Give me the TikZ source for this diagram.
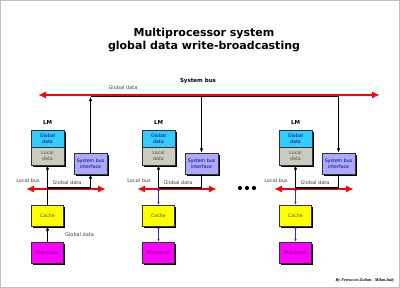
\documentclass[tikz,border=0pt]{standalone}
\usepackage{fontspec}
\setmainfont{DejaVu Sans}
\newfontfamily\creditfont{Liberation Serif}
\usetikzlibrary{arrows.meta,positioning,shadows}
\definecolor{busred}{RGB}{255,0,0}
\definecolor{gdcyan}{RGB}{51,204,255}
\definecolor{ldgray}{RGB}{204,204,190}
\definecolor{sbiblue}{RGB}{170,170,255}
\definecolor{cacheyel}{RGB}{255,255,0}
\definecolor{procmag}{RGB}{255,0,255}
\definecolor{linkblue}{RGB}{40,40,255}

\begin{document}
\begin{tikzpicture}[x=1pt,y=-1pt,>=Latex,
  every node/.style={font=\fontsize{5}{6}\selectfont, inner sep=0pt, text=black!75},
  box/.style={draw=black!80, line width=0.4pt, minimum width=33pt, minimum height=18pt,
    align=center, font=\fontsize{4.7}{5.6}\selectfont,
    drop shadow={shadow xshift=1.6pt, shadow yshift=-1.6pt, fill=black, opacity=1}},
  redbus/.style={busred, line width=2.5pt, {Latex[length=8pt,width=7pt]}-{Latex[length=8pt,width=7pt]}},
  datalink/.style={black, line width=1.4pt, arrows={-Latex[length=4.5pt,width=3.5pt]}},
  cachelink/.style={linkblue, line width=0.8pt, arrows={Latex[length=3pt,width=2.5pt]-Latex[length=3pt,width=2.5pt]}},
  lmlabel/.style={font=\bfseries\fontsize{5.5}{6}\selectfont, text=black},
  dotmark/.style={circle, fill=black, minimum size=4.2pt}]
\useasboundingbox (0,0) rectangle (400,288);
\draw[black!25, line width=1pt] (0.5,0.5) rectangle (399.5,287.5);

% title and system bus
\node[font=\bfseries\fontsize{11}{12.5}\selectfont, align=center, text=black] (title) at (204,40)
  {Multiprocessor system\\global data write-broadcasting};
\node[lmlabel] (sysbuslab) at (198,81) {System bus};
\node (gdlab) at (123,88) {Global data};
\coordinate (sysW) at (38,95);
\coordinate (sysE) at (380,95);
\draw[redbus] (sysW) -- (sysE);

% processing nodes
\foreach \i/\x in {1/31,2/142,3/279}{
  \node[box, fill=gdcyan, minimum height=17pt, text=blue!50!black] (gd\i) at (\x+16.5,138.5) {Global\\data};
  \node[box, fill=ldgray, text=black!70] (ld\i) at (\x+16.5,156) {Local\\data};
  \node[lmlabel, above=5pt of gd\i] (lm\i) {LM};
  \node[box, fill=sbiblue, minimum height=21pt, text=blue!40!black] (sbi\i) at (\x+59.5,163.5) {System bus\\interface};
  \node[box, fill=cacheyel, minimum width=32pt, minimum height=21pt, text=black!70] (cache\i) at (\x+16.5,215.5) {Cache};
  \node[box, fill=procmag, minimum width=32pt, minimum height=21pt, text=violet!70!black] (proc\i) at (\x+16.5,252.5) {Processor};
  \coordinate (sb\i) at (\x+59.5,96.6);
  \coordinate (lbW\i) at (\x-5,189);
  \coordinate (lbE\i) at (\x+75,189);
  \coordinate (lbj\i) at (\x+16.5,188);
  \coordinate (lbk\i) at (\x+59.5,188);
  \draw[redbus] (lbW\i) -- (lbE\i);
  \draw[black, line width=1.4pt] (lbj\i) -- (lbk\i);
  \node (lblab\i) at (\x-3,181) {Local bus};
  \node (gdlab\i) at (\x+36,183) {Global data};
}
\draw[black, line width=1.2pt] (sb1) -- (sb3);

% first node: processor writes global data
\draw[datalink] (proc1.north) -- (cache1.south);
\node[anchor=west] (pwlab) at (65,235) {Global data};
\draw[datalink] (cache1.north) -- (ld1.south);
\draw[datalink] (lbk1) -- (sbi1.south);
\draw[datalink] (sbi1.north) -- (sb1);

% other nodes: broadcast update
\foreach \i in {2,3}{
  \draw[cachelink] (proc\i.north) -- (cache\i.south);
  \draw[cachelink] (cache\i.north) -- (lbj\i);
  \draw[datalink] (lbj\i) -- (ld\i.south);
  \draw[datalink] (sb\i) -- (sbi\i.north);
  \draw[black, line width=1.4pt] (sbi\i.south) -- (lbk\i);
}

\foreach \d/\xd in {1/240,2/247,3/254}
  \node[dotmark] (dot\d) at (\xd,188) {};

\node[font=\creditfont\bfseries\itshape\fontsize{4.2}{5}\selectfont, text=black] (credit) at (365,280)
  {By Ferruccio Zulian - Milan.Italy};
\end{tikzpicture}
\end{document}
